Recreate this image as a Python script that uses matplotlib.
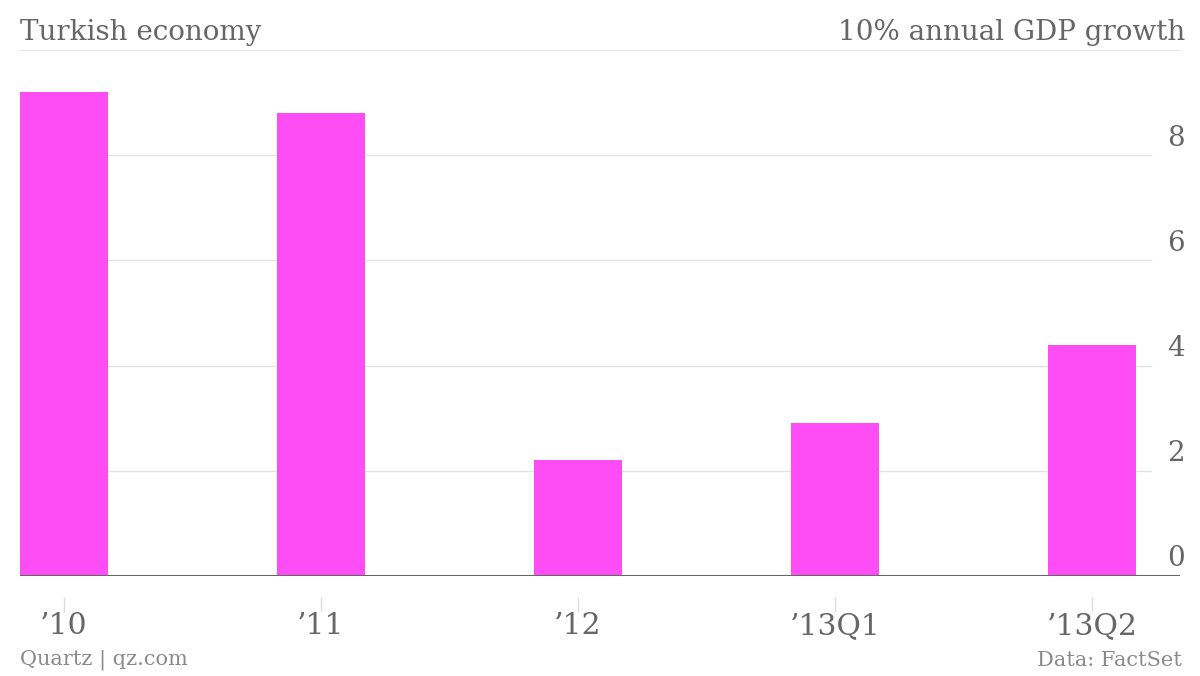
import matplotlib.pyplot as plt

categories = ["\u201910", "\u201911", "\u201912", "\u201913Q1", "\u201913Q2"]
growth = [9.2, 8.8, 2.2, 2.9, 4.4]
yticks = [0, 2, 4, 6, 8]

serif = ["DejaVu Serif"]
plt.rcParams['font.family'] = serif

fig = plt.figure(figsize=(12, 6.76), dpi=100)
ax = fig.add_axes([20 / 1200, 1 - 576 / 676, 1160 / 1200, 526 / 676])

x = list(range(len(categories)))
ax.bar(x, growth, width=0.342, color='#ff4df5', zorder=2)

ax.set_xlim(-0.171, 4.342)
ax.set_ylim(0, 10)

for y in yticks[1:]:
    ax.axhline(y, xmin=0, xmax=0.975, color='#e3e3e3', lw=1, zorder=1)
for y in yticks:
    ax.text(1.0043, y + 0.07, str(y), transform=ax.get_yaxis_transform(),
            ha='right', va='bottom', fontsize=20, color='#666666')
ax.axhline(10, color='#e3e3e3', lw=1.2, zorder=1)
ax.axhline(0, color='#666666', lw=1.5, zorder=3)

for s in ax.spines.values():
    s.set_visible(False)
ax.spines['bottom'].set_position(('outward', 15))
ax.set_yticks([])
ax.set_xticks(x)
ax.set_xticklabels(categories, fontsize=21.5, color='#666666')
ax.tick_params(axis='x', length=11, width=1, color='#dddddd', pad=0,
               direction='out')

fig.text(20 / 1200, 1 - 32 / 676, "Turkish economy", fontsize=20,
         color='#666666', ha='left', va='center')
fig.text(1185 / 1200, 1 - 32 / 676, "10% annual GDP growth", fontsize=20,
         color='#666666', ha='right', va='center')
fig.text(20 / 1200, 1 - 660 / 676, "Quartz | qz.com", fontsize=15,
         color='#8a8a8a', ha='left', va='center')
fig.text(1182 / 1200, 1 - 660 / 676, "Data: FactSet", fontsize=15,
         color='#8a8a8a', ha='right', va='center')

fig.savefig("out.png", dpi=100)
